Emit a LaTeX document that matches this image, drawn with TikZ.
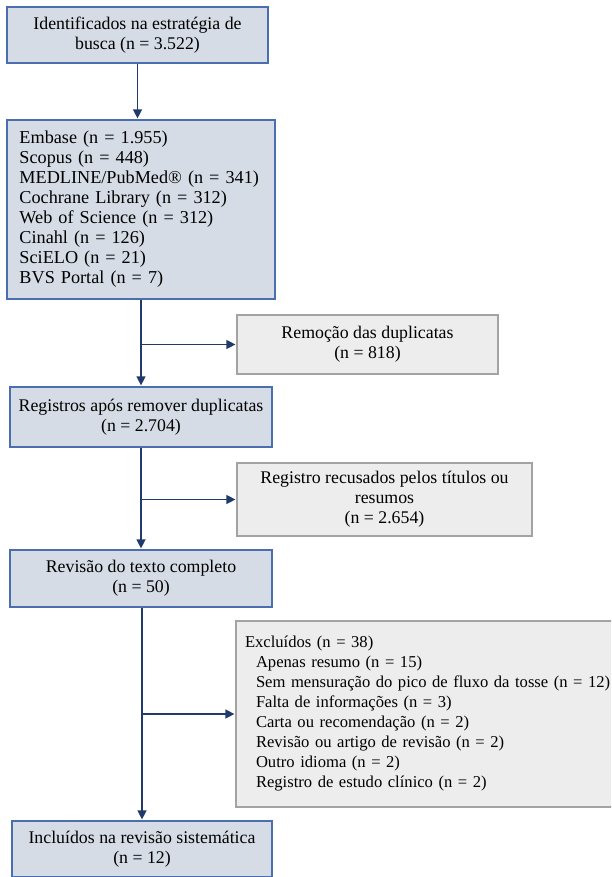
\documentclass[tikz,border=0pt]{standalone}
\usepackage{fontspec}
\setmainfont{Liberation Serif}
\usetikzlibrary{arrows.meta,calc}
\definecolor{bluefill}{HTML}{D6DCE5}
\definecolor{blueline}{HTML}{4A6EAE}
\definecolor{grayfill}{HTML}{EDEDED}
\definecolor{grayline}{HTML}{A3A3A3}
\definecolor{arrowcol}{HTML}{1F3A6B}
\begin{document}
\begin{tikzpicture}[x=1pt,y=-1pt,
  bluebox/.style={draw=blueline,line width=1.2pt,fill=bluefill,inner sep=0pt,align=center,
    font=\fontsize{17.8}{20}\selectfont},
  graybox/.style={draw=grayline,line width=1.2pt,fill=grayfill,inner sep=0pt,align=center,
    font=\fontsize{17.8}{20}\selectfont},
  arr/.style={draw=arrowcol,line width=1.3pt,-{Triangle[width=9pt,length=9pt]},shorten >=1pt},
  ]
\useasboundingbox (0,0) rectangle (611,877);
\begin{scope}
\clip (0,0) rectangle (611,877);
\node[bluebox,minimum width=261pt,minimum height=56pt] (b1) at (137.5,35)
  {Identificados na estratégia de\\busca (n = 3.522)};
\node[bluebox,minimum width=268pt,minimum height=179pt,text width=243pt,align=left,
  font=\fontsize{18.2}{20}\selectfont] (b2) at (141,209.5)
  {Embase (n = 1.955)\\Scopus (n = 448)\\MEDLINE/PubMed® (n = 341)\\Cochrane Library (n = 312)\\Web of Science (n = 312)\\Cinahl (n = 126)\\SciELO (n = 21)\\BVS Portal (n = 7)};
\node[graybox,minimum width=261pt,minimum height=59pt] (b3) at (367.5,344.5)
  {Remoção das duplicatas\\(n = 818)};
\node[bluebox,minimum width=262pt,minimum height=60pt] (b4) at (141,417)
  {Registros após remover duplicatas\\(n = 2.704)};
\node[graybox,minimum width=295pt,minimum height=73pt] (b5) at (384.5,499.5)
  {Registro recusados pelos títulos ou\\resumos\\(n = 2.654)};
\node[bluebox,minimum width=262pt,minimum height=57pt] (b6) at (141,578.5)
  {Revisão do texto completo\\(n = 50)};
\node[graybox,minimum width=384pt,minimum height=186pt,text width=366pt,align=left,
  font=\fontsize{16.6}{20}\selectfont] (b7) at (428,714)
  {Excluídos (n = 38)\\
  \hspace*{11pt}Apenas resumo (n = 15)\\
  \hspace*{11pt}Sem mensuração do pico de fluxo da tosse (n = 12)\\
  \hspace*{11pt}Falta de informações (n = 3)\\
  \hspace*{11pt}Carta ou recomendação (n = 2)\\
  \hspace*{11pt}Revisão ou artigo de revisão (n = 2)\\
  \hspace*{11pt}Outro idioma (n = 2)\\
  \hspace*{11pt}Registro de estudo clínico (n = 2)};
\node[bluebox,minimum width=260pt,minimum height=56pt] (b8) at (142,849)
  {Incluídos na revisão sistemática\\(n = 12)};
\end{scope}
\coordinate (j1) at (b3.west -| b4.north);
\coordinate (j2) at (b5.west -| b6.north);
\coordinate (j3) at (b7.west -| b8.north);
\draw[arr] (b1.south) -- (b1.south |- b2.north);
\draw[arr] (b2.south -| b4.north) -- (b4.north);
\draw[arr] (j1) -- (b3.west);
\draw[arr] (b4.south) -- (b6.north);
\draw[arr] (j2) -- (b5.west);
\draw[arr] (b6.south -| b8.north) -- (b8.north);
\draw[arr] (j3) -- (b7.west);
\end{tikzpicture}
\end{document}
